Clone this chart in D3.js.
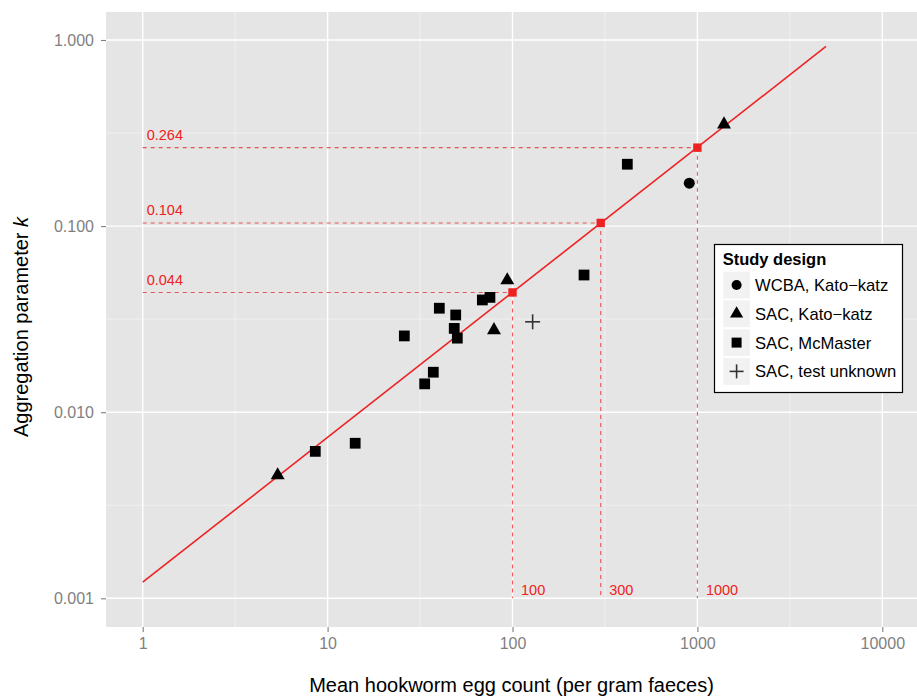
<!DOCTYPE html>
<html><head><meta charset="utf-8">
<script src="https://cdn.jsdelivr.net/npm/d3@7"></script>
<style>
body{margin:0;background:#fff;}
text{font-family:"Liberation Sans",Arial,Helvetica,sans-serif;}
</style></head>
<body><svg id="c" width="917" height="697"></svg>
<script>
// ---- data ----
const wcbaKK_x = [903.7];
const wcbaKK_k = [0.170];
const sacKK_x = [5.37, 93.7, 79.4, 1393];
const sacKK_k = [0.00458, 0.0512, 0.0276, 0.352];
const sacMM_x = [8.58, 14.1, 26.0, 33.5, 37.3, 40.2, 49.3, 48.4, 50.3, 68.7, 75.5, 243.7, 417.8];
const sacMM_k = [0.00616, 0.00681, 0.0257, 0.0142, 0.0164, 0.0362, 0.0333, 0.0282, 0.0250, 0.0401, 0.0414, 0.0546, 0.215];
const sacTU_x = [128.5];
const sacTU_k = [0.0306];
const fitX = [1, 4960];
const fitK = [0.00122, 0.923];
const refX = [100, 300, 1000];
const refK = [0.044, 0.104, 0.264];
const refKLabels = ["0.044", "0.104", "0.264"];
const refXLabels = ["100", "300", "1000"];
const xTicks = [1, 10, 100, 1000, 10000];
const xTickLabels = ["1", "10", "100", "1000", "10000"];
const yTicks = [1, 0.1, 0.01, 0.001];
const yTickLabels = ["1.000", "0.100", "0.010", "0.001"];
const xMinor = [Math.sqrt(10), Math.sqrt(1000), Math.sqrt(100000), Math.sqrt(10000000)];
const yMinor = [Math.sqrt(0.1), Math.sqrt(0.001), Math.sqrt(0.00001)];
const legendLabels = ["WCBA, Kato\u2212katz", "SAC, Kato\u2212katz", "SAC, McMaster", "SAC, test unknown"];

// ---- layout ----
const P = {l:106, r:917, t:12, b:627};
const svg = d3.select("#c");
const x = d3.scaleLog().domain([1, 10000]).range([142.7, 882.3]);
const y = d3.scaleLog().domain([1, 0.001]).range([40, 598.3]);
const RED = "#EE2222";

svg.append("rect").attr("x",P.l).attr("y",P.t).attr("width",P.r-P.l).attr("height",P.b-P.t).attr("fill","#E5E5E5");
svg.append("defs").append("clipPath").attr("id","pc").append("rect")
  .attr("x",P.l).attr("y",P.t).attr("width",P.r-P.l).attr("height",P.b-P.t);
const g = svg.append("g").attr("clip-path","url(#pc)");

// grid
g.selectAll(".xmin").data(xMinor).join("line").attr("x1",d=>x(d)).attr("x2",d=>x(d)).attr("y1",P.t).attr("y2",P.b).attr("stroke","#F2F2F2").attr("stroke-width",0.8);
g.selectAll(".ymin").data(yMinor).join("line").attr("y1",d=>y(d)).attr("y2",d=>y(d)).attr("x1",P.l).attr("x2",P.r).attr("stroke","#F2F2F2").attr("stroke-width",0.8);
g.selectAll(".xmaj").data(xTicks).join("line").attr("x1",d=>x(d)).attr("x2",d=>x(d)).attr("y1",P.t).attr("y2",P.b).attr("stroke","#fff").attr("stroke-width",1.4);
g.selectAll(".ymaj").data(yTicks).join("line").attr("y1",d=>y(d)).attr("y2",d=>y(d)).attr("x1",P.l).attr("x2",P.r).attr("stroke","#fff").attr("stroke-width",1.4);

// axes ticks
const ax = svg.append("g").attr("transform",`translate(0,${P.b})`)
  .call(d3.axisBottom(x).tickValues(xTicks).tickFormat((d,i)=>xTickLabels[i]).tickSize(5).tickPadding(6));
const ay = svg.append("g").attr("transform",`translate(${P.l},0)`)
  .call(d3.axisLeft(y).tickValues(yTicks).tickFormat((d,i)=>yTickLabels[i]).tickSize(5).tickPadding(7));
[ax,ay].forEach(a=>{
  a.select(".domain").remove();
  a.selectAll(".tick line").attr("stroke","#7F7F7F").attr("stroke-width",1.1);
  a.selectAll(".tick text").attr("fill","#7F7F7F").attr("font-size",16).attr("font-family","Liberation Sans, Arial, sans-serif");
});

// reference dashed lines
const refs = refX.map((d,i)=>({x:d,k:refK[i],kl:refKLabels[i],xl:refXLabels[i]}));
g.selectAll(".hd").data(refs).join("line")
  .attr("x1",x(1)).attr("x2",d=>x(d.x)).attr("y1",d=>y(d.k)).attr("y2",d=>y(d.k))
  .attr("stroke",RED).attr("stroke-opacity",0.75).attr("stroke-width",1.1).attr("stroke-dasharray","4,4");
g.selectAll(".vd").data(refs).join("line")
  .attr("x1",d=>x(d.x)).attr("x2",d=>x(d.x)).attr("y1",d=>y(d.k)).attr("y2",y(0.001))
  .attr("stroke",RED).attr("stroke-opacity",0.75).attr("stroke-width",1.1).attr("stroke-dasharray","4,4");
g.selectAll(".kl").data(refs).join("text")
  .attr("x",x(1)+4).attr("y",d=>y(d.k)-7.5).text(d=>d.kl)
  .attr("fill",RED).attr("font-size",14.5);
g.selectAll(".xl").data(refs).join("text")
  .attr("x",d=>x(d.x)+8.5).attr("y",595).text(d=>d.xl)
  .attr("fill",RED).attr("font-size",14.5);

// fit line
g.append("path").datum(fitX.map((d,i)=>[d,fitK[i]]))
  .attr("d",d3.line().x(d=>x(d[0])).y(d=>y(d[1])))
  .attr("stroke",RED).attr("stroke-width",1.6).attr("fill","none");
g.selectAll(".rs").data(refs).join("rect")
  .attr("x",d=>x(d.x)-4.2).attr("y",d=>y(d.k)-4.2).attr("width",8.4).attr("height",8.4).attr("fill",RED);

// symbols
const sym = {
  circle: d3.symbol().type(d3.symbolCircle).size(95)(),
  tri: d3.symbol().type(d3.symbolTriangle).size(84)(),
  sq: d3.symbol().type(d3.symbolSquare).size(116)()
};
function drawPts(xs, ks, path){
  g.selectAll(null).data(xs.map((d,i)=>[d,ks[i]])).join("path")
    .attr("d",path).attr("transform",d=>`translate(${x(d[0])},${y(d[1])})`).attr("fill","#000");
}
drawPts(sacMM_x, sacMM_k, sym.sq);
drawPts(sacKK_x, sacKK_k, sym.tri);
drawPts(wcbaKK_x, wcbaKK_k, sym.circle);
function plus(sel, cx, cy, r){
  sel.append("line").attr("x1",cx-r).attr("x2",cx+r).attr("y1",cy).attr("y2",cy).attr("stroke","#333").attr("stroke-width",1.6);
  sel.append("line").attr("x1",cx).attr("x2",cx).attr("y1",cy-r).attr("y2",cy+r).attr("stroke","#333").attr("stroke-width",1.6);
}
sacTU_x.forEach((d,i)=>plus(g, x(d), y(sacTU_k[i]), 7.5));

// axis titles
svg.append("text").attr("x",(P.l+P.r)/2).attr("y",692).attr("text-anchor","middle")
  .attr("font-size",20).attr("fill","#000").text("Mean hookworm egg count (per gram faeces)");
const yt = svg.append("text").attr("transform","translate(28,327) rotate(-90)").attr("text-anchor","middle")
  .attr("font-size",20).attr("fill","#000");
yt.append("tspan").text("Aggregation parameter ");
yt.append("tspan").attr("font-style","italic").text("k");

// legend
const L = svg.append("g");
L.append("rect").attr("x",714.5).attr("y",244.5).attr("width",188).attr("height",148)
  .attr("fill","#fff").attr("stroke","#000").attr("stroke-width",1.2);
L.append("text").attr("x",722.7).attr("y",264.5).attr("font-size",16.5).attr("font-weight","bold").text("Study design");
const rowY = [271.7, 300.5, 329.3, 358.1];
const lsyms = [sym.circle, sym.tri, sym.sq, null];
legendLabels.forEach((lab,i)=>{
  L.append("rect").attr("x",723.3).attr("y",rowY[i]).attr("width",26.7).attr("height",26.7).attr("fill","#F2F2F2");
  const cx = 736.6, cy = rowY[i]+13.3;
  if (lsyms[i]) {
    const s = i===0 ? d3.symbol().type(d3.symbolCircle).size(80)() :
              i===1 ? d3.symbol().type(d3.symbolTriangle).size(75)() :
              d3.symbol().type(d3.symbolSquare).size(100)();
    L.append("path").attr("d",s).attr("transform",`translate(${cx},${cy})`).attr("fill","#000");
  } else plus(L, cx, cy, 7);
  L.append("text").attr("x",755).attr("y",cy+6).attr("font-size",16.6).text(lab);
});
</script></body></html>
